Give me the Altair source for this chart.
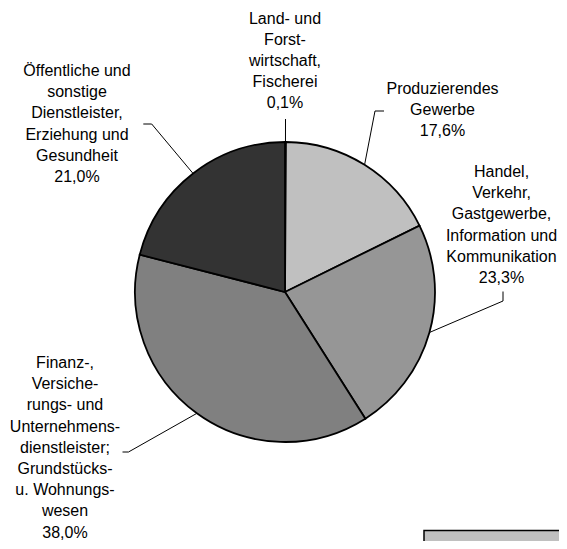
import math
import altair as alt
import pandas as pd

# ---------------- data ----------------
categories = [
    "Land- und Forstwirtschaft, Fischerei",
    "Produzierendes Gewerbe",
    "Handel, Verkehr, Gastgewerbe, Information und Kommunikation",
    "Finanz-, Versicherungs- und Unternehmensdienstleister; Grundstücks- u. Wohnungswesen",
    "Öffentliche und sonstige Dienstleister, Erziehung und Gesundheit",
]
values = [0.1, 17.6, 23.3, 38.0, 21.0]
label_lines = [
    "Land- und\nForst-\nwirtschaft,\nFischerei",
    "Produzierendes\nGewerbe",
    "Handel,\nVerkehr,\nGastgewerbe,\nInformation und\nKommunikation",
    "Finanz-,\nVersiche-\nrungs- und\nUnternehmens-\ndienstleister;\nGrundstücks-\nu. Wohnungs-\nwesen",
    "Öffentliche und\nsonstige\nDienstleister,\nErziehung und\nGesundheit",
]
pct_labels = ["0,1%", "17,6%", "23,3%", "38,0%", "21,0%"]

# ---------------- styles / layout ----------------
colors = ["#E6E6E6", "#C0C0C0", "#969696", "#808080", "#333333"]
W, H, M = 551, 533, 8          # plot size and page margin
CX, CY, R = 285, 292, 150      # pie centre (page px) and radius
FONT = "Liberation Sans"
LH = 21.2
# (centre x, centre y of first line) in page pixels
label_pos = [(285, 18.5), (442.5, 89), (501.5, 172), (65, 363), (77, 71)]
elbow_pos = [(285.5, 119), (375, 111), (503, 301), (128.5, 452), (151.7, 124)]
end_pos = [(285.5, 119), (384, 111), (503, 291.5), (122.5, 452), (143.3, 124)]

xs = alt.Scale(domain=[M, M + W], range=[0, W], nice=False, zero=False)
ys = alt.Scale(domain=[M, M + H], range=[0, H], nice=False, zero=False)

# ---------------- pie ----------------
pie_df = pd.DataFrame({"cat": categories, "value": values, "order": list(range(len(values)))})
pie = alt.Chart(pie_df).mark_arc(stroke="black", strokeWidth=1.8, radius=R).encode(
    theta=alt.Theta("value:Q", stack=True),
    order=alt.Order("order:Q"),
    color=alt.Color("cat:N", scale=alt.Scale(domain=categories, range=colors), legend=None),
    x=alt.value(CX - M),
    y=alt.value(CY - M),
)

# ---------------- leader lines ----------------
total = sum(values)
segs = []
cum = 0.0
for i, v in enumerate(values):
    mid = (cum + v / 2) / total * 2 * math.pi
    cum += v
    ex, ey = CX + R * math.sin(mid), CY - R * math.cos(mid)
    bx, by = elbow_pos[i]
    tx, ty = end_pos[i]
    segs.append({"x": ex, "y": ey, "x2": bx, "y2": by})
    segs.append({"x": bx, "y": by, "x2": tx, "y2": ty})
seg_df = pd.DataFrame(segs)
leaders = alt.Chart(seg_df).mark_rule(color="black", strokeWidth=1).encode(
    x=alt.X("x:Q", scale=xs, axis=None),
    y=alt.Y("y:Q", scale=ys, axis=None),
    x2="x2:Q",
    y2="y2:Q",
)

# ---------------- labels ----------------
lab_df = pd.DataFrame({
    "text": [l + "\n" + p for l, p in zip(label_lines, pct_labels)],
    "x": [p[0] for p in label_pos],
    "y": [p[1] for p in label_pos],
})
labels = alt.Chart(lab_df).mark_text(
    lineBreak="\n", font=FONT, fontSize=16, lineHeight=LH,
    align="center", baseline="middle", color="#000000",
).encode(
    x=alt.X("x:Q", scale=xs, axis=None),
    y=alt.Y("y:Q", scale=ys, axis=None),
    text="text:N",
)

# ---------------- decorative box (bottom right) ----------------
box = alt.Chart(pd.DataFrame({"a": [0]})).mark_rect(
    fill="#C0C0C0", stroke="black", strokeWidth=1.5
).encode(
    x=alt.value(424 - M), x2=alt.value(W + 20),
    y=alt.value(530.5 - M), y2=alt.value(H + 20),
)

chart = alt.layer(box, pie, leaders, labels).properties(
    width=W, height=H, autosize=alt.AutoSizeParams(type="none"), padding=0
).configure_view(stroke=None)

chart.save("out.html", embed_options={"renderer": "svg", "actions": False})
